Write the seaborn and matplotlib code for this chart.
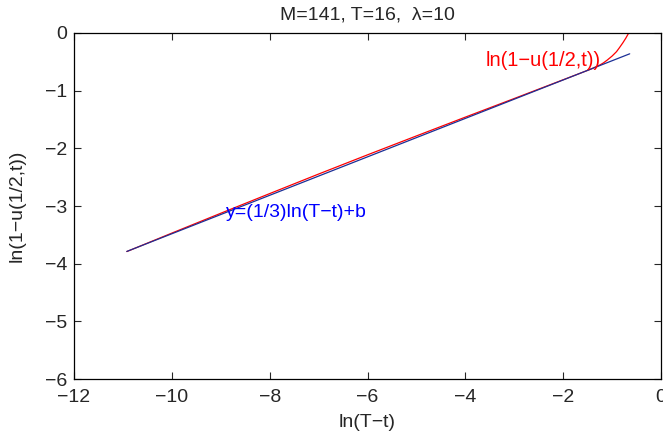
import matplotlib
matplotlib.use("Agg")
import matplotlib.pyplot as plt
import numpy as np
import seaborn as sns

# Values
log_tau = [-10.92, -10.0, -9.0, -8.0, -7.0, -6.0, -5.0, -4.0, -3.0, -2.0,
           -1.5, -1.4, -1.25, -1.18, -1.1, -1.0, -0.91, -0.85, -0.78, -0.72, -0.66]
log_one_minus_u = [-3.79, -3.47, -3.126, -2.785, -2.446, -2.113, -1.785, -1.459,
                   -1.136, -0.811, -0.648, -0.613, -0.555, -0.52, -0.47, -0.40,
                   -0.324, -0.255, -0.17, -0.09, 0.0]

fit_x = [-10.92, -0.64]
fit_y = [-3.788, -0.361]

title = "M=141, T=16,  \u03bb=10"

sns.set_style("ticks")
plt.rcParams["font.family"] = ["Liberation Sans", "DejaVu Sans"]
plt.rcParams.update({"xtick.direction": "in", "ytick.direction": "in",
                     "xtick.top": True, "ytick.right": True,
                     "xtick.major.size": 5, "ytick.major.size": 5,
                     "axes.linewidth": 0.9, "font.size": 14})

fig = plt.figure(figsize=(6.63, 4.37), dpi=100)
ax = fig.add_axes([0.1116, 0.1327, 0.997 - 0.1116, 0.9245 - 0.1327])

sns.lineplot(x=log_tau, y=log_one_minus_u, ax=ax, color="#ff0000", lw=0.9,
             sort=False, estimator=None)
sns.lineplot(x=fit_x, y=fit_y, ax=ax, color="#1c2f96", lw=0.9,
             sort=False, estimator=None)

ax.text(-3.58, -0.47, "ln(1\u2212u(1/2,t))", color="#ff0000", fontsize=14.5,
        ha="left", va="center")
ax.text(-8.89, -3.12, "y=(1/3)ln(T\u2212t)+b", color="#0000ff", fontsize=14,
        ha="left", va="center")

ax.set_xlim(-12, 0)
ax.set_ylim(-6, 0)
ax.set_xticks(np.arange(-12, 1, 2))
ax.set_yticks(np.arange(-6, 1, 1))
ax.tick_params(axis="x", labelsize=14, width=0.8, pad=7)
ax.tick_params(axis="y", labelsize=14, width=0.8, pad=5)
ax.set_xlabel("ln(T\u2212t)", fontsize=14, labelpad=6)
ax.set_ylabel("ln(1\u2212u(1/2,t))", fontsize=14, labelpad=14)
ax.set_title(title, fontsize=14, pad=10)
for s in ax.spines.values():
    s.set_visible(True)
    s.set_color("black")

fig.savefig("out.png", dpi=100)
